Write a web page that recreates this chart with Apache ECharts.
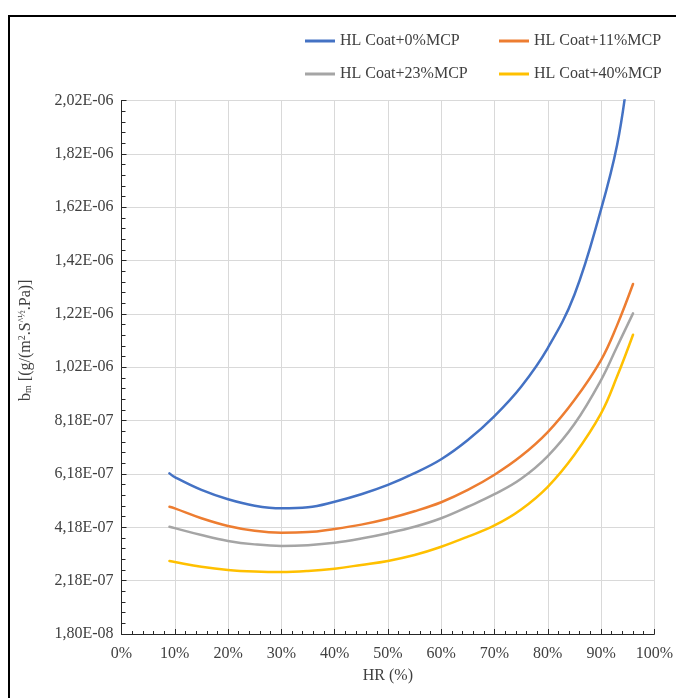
<!DOCTYPE html>
<html>
<head>
<meta charset="utf-8">
<script src="https://cdn.jsdelivr.net/npm/echarts@6/dist/echarts.min.js"></script>
<style>
html,body{margin:0;padding:0;background:#fff;}
#chart{width:676px;height:698px;}
</style>
</head>
<body>
<div id="chart"></div>
<script>
// ---- data ----
const seriesNames = ['HL Coat+0%MCP', 'HL Coat+11%MCP', 'HL Coat+23%MCP', 'HL Coat+40%MCP'];
const hrBlue = [9, 10, 15, 20, 25, 30, 35, 40, 45, 50, 55, 60, 65, 70, 75, 80, 85, 90, 93, 95];
const hrOthers = [9, 10, 15, 20, 25, 30, 35, 40, 45, 50, 55, 60, 65, 70, 75, 80, 85, 90, 93, 96];
const bm0 = [6.20e-7, 6.06e-7, 5.58e-7, 5.23e-7, 4.99e-7, 4.89e-7, 4.93e-7, 5.14e-7, 5.42e-7, 5.77e-7, 6.21e-7, 6.73e-7, 7.45e-7, 8.35e-7, 9.45e-7, 1.09e-6, 1.29e-6, 1.61e-6, 1.85e-6, 2.11e-6];
const bm11 = [4.95e-7, 4.89e-7, 4.52e-7, 4.23e-7, 4.05e-7, 3.98e-7, 4.00e-7, 4.12e-7, 4.28e-7, 4.50e-7, 4.78e-7, 5.12e-7, 5.58e-7, 6.15e-7, 6.85e-7, 7.75e-7, 8.95e-7, 1.045e-6, 1.175e-6, 1.33e-6];
const bm23 = [4.20e-7, 4.15e-7, 3.89e-7, 3.67e-7, 3.54e-7, 3.48e-7, 3.51e-7, 3.60e-7, 3.76e-7, 3.96e-7, 4.20e-7, 4.52e-7, 4.95e-7, 5.42e-7, 6.00e-7, 6.85e-7, 8.05e-7, 9.70e-7, 1.095e-6, 1.22e-6];
const bm40 = [2.92e-7, 2.88e-7, 2.70e-7, 2.58e-7, 2.52e-7, 2.50e-7, 2.54e-7, 2.63e-7, 2.77e-7, 2.92e-7, 3.14e-7, 3.45e-7, 3.83e-7, 4.25e-7, 4.85e-7, 5.70e-7, 6.90e-7, 8.45e-7, 9.83e-7, 1.14e-6];
const colors = ['#4472C4', '#ED7D31', '#A5A5A5', '#FFC000'];
const yMin = 1.8e-8, yMax = 2.018e-6, yStep = 2e-7;
const xMin = 0, xMax = 100, xStep = 10;

function pairs(xs, ys) { return xs.map((x, i) => [x, ys[i]]); }
function fmtY(v) {
  const s = Number(v).toExponential(2);
  const parts = s.split('e');
  const n = parseInt(parts[1], 10);
  return parts[0].replace('.', ',') + 'E' + (n < 0 ? '-' : '+') + String(Math.abs(n)).padStart(2, '0');
}

const font = 'Liberation Serif';
const txt = '#404040';
const chart = echarts.init(document.getElementById('chart'), null, {renderer: 'canvas'});
const seriesData = [pairs(hrBlue, bm0), pairs(hrOthers, bm11), pairs(hrOthers, bm23), pairs(hrOthers, bm40)];

const legendCommon = {
  orient: 'vertical', icon: 'rect', itemWidth: 30, itemHeight: 3, itemGap: 17, padding: 0,
  textStyle: {fontFamily: font, fontSize: 16, color: txt}, top: 33, selectedMode: false
};

chart.setOption({
  animation: false,
  backgroundColor: '#fff',
  color: colors,
  graphic: [{
    type: 'rect', shape: {x: 9, y: 16, width: 720, height: 720},
    style: {fill: 'none', stroke: '#000', lineWidth: 2}, silent: true
  }],
  legend: [
    Object.assign({}, legendCommon, {left: 305, data: [seriesNames[0], seriesNames[2]]}),
    Object.assign({}, legendCommon, {left: 499, data: [seriesNames[1], seriesNames[3]]})
  ],
  grid: {left: 121.5, right: 18.5, top: 100.5, bottom: 64, containLabel: false},
  xAxis: {
    type: 'value', min: xMin, max: xMax, interval: xStep,
    name: 'HR (%)', nameLocation: 'middle', nameGap: 34,
    nameTextStyle: {fontFamily: font, fontSize: 16, color: txt},
    axisLine: {show: true, onZero: false, lineStyle: {color: '#262626', width: 1}},
    axisTick: {show: true, inside: true, length: 5, lineStyle: {color: '#262626'}},
    minorTick: {show: true, splitNumber: 5, length: 3, lineStyle: {color: '#262626'}},
    axisLabel: {fontFamily: font, fontSize: 16, color: txt, margin: 12, formatter: v => v + '%'},
    splitLine: {show: true, lineStyle: {color: '#d9d9d9', width: 1}}
  },
  yAxis: {
    type: 'value', min: yMin, max: yMax, interval: yStep,
    name: 'b{sub|m} [(g/(m{sup|2}.S{sup|^½}.Pa)]', nameLocation: 'middle', nameGap: 88,
    nameTextStyle: {
      fontFamily: font, fontSize: 16, color: txt, padding: [0, 0, 0, 54],
      rich: {
        sub: {fontFamily: font, fontSize: 10, color: txt, verticalAlign: 'bottom', padding: [6, 0, 0, 0]},
        sup: {fontFamily: font, fontSize: 10, color: txt, verticalAlign: 'top', padding: [0, 0, 6, 0]}
      }
    },
    axisLine: {show: true, onZero: false, lineStyle: {color: '#262626', width: 1}},
    axisTick: {show: true, inside: true, length: 5, lineStyle: {color: '#262626'}},
    minorTick: {show: true, splitNumber: 5, length: 4, lineStyle: {color: '#262626'}},
    axisLabel: {fontFamily: font, fontSize: 16, color: txt, margin: 8, formatter: fmtY},
    splitLine: {show: true, lineStyle: {color: '#d9d9d9', width: 1}}
  },
  series: seriesNames.map((n, i) => ({
    name: n, type: 'line', data: seriesData[i], smooth: 0.4,
    showSymbol: false, symbol: 'none', clip: true,
    lineStyle: {color: colors[i], width: 2.5, cap: 'round'},
    itemStyle: {color: colors[i]}, z: 2 + i
  }))
});
</script>
</body>
</html>
